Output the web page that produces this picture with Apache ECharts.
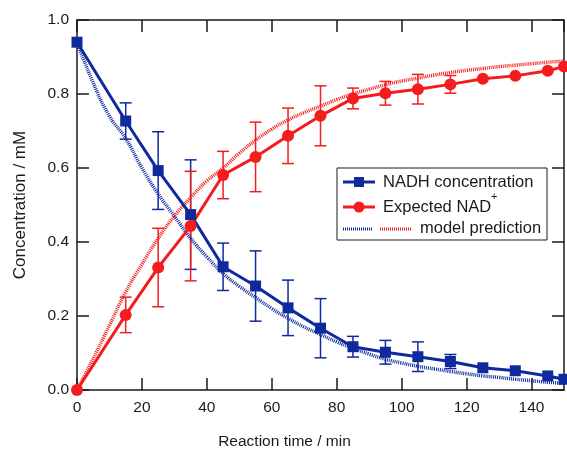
<!DOCTYPE html>
<html>
<head>
<meta charset="utf-8">
<script src="https://cdn.jsdelivr.net/npm/echarts@6/dist/echarts.min.js"></script>
<style>
    html, body { margin: 0; padding: 0; background: #fff; }
    #chart { width: 567px; height: 449px; }
</style>
</head>
<body>
<div id="chart"></div>
<script>
// measured points (min)
const times = [0, 15, 25, 35, 45, 55, 65, 75, 85, 95, 105, 115, 125, 135, 145, 150];
const nadh = [0.94, 0.727, 0.593, 0.474, 0.333, 0.281, 0.222, 0.167, 0.117, 0.102, 0.090, 0.077, 0.060, 0.052, 0.038, 0.029];
const nadhErr = [0, 0.049, 0.105, 0.148, 0.064, 0.095, 0.075, 0.080, 0.028, 0.032, 0.040, 0.019, 0, 0, 0, 0];
const nad = [0, 0.203, 0.331, 0.443, 0.581, 0.630, 0.687, 0.741, 0.788, 0.802, 0.813, 0.826, 0.841, 0.849, 0.863, 0.874];
const nadErr = [0, 0.048, 0.106, 0.148, 0.064, 0.094, 0.075, 0.081, 0.028, 0.032, 0.040, 0.024, 0, 0, 0, 0];

// model prediction curves
const modelTime = [0, 5, 10, 15, 20, 25, 30, 35, 40, 45, 50, 55, 60, 65, 70, 75, 80, 85, 90, 95, 100, 105, 110, 115, 120, 125, 130, 135, 140, 145, 150];
const modelNadh = [0.94, 0.83, 0.74, 0.68, 0.60, 0.53, 0.47, 0.41, 0.36, 0.315, 0.28, 0.25, 0.22, 0.194, 0.17, 0.15, 0.13, 0.113, 0.097, 0.083, 0.073, 0.064, 0.057, 0.050, 0.044, 0.038, 0.034, 0.029, 0.025, 0.021, 0.018];
const modelNad = [0, 0.085, 0.175, 0.265, 0.34, 0.41, 0.47, 0.52, 0.565, 0.60, 0.64, 0.675, 0.705, 0.73, 0.75, 0.767, 0.785, 0.80, 0.813, 0.825, 0.835, 0.843, 0.851, 0.858, 0.864, 0.869, 0.874, 0.878, 0.882, 0.886, 0.889];

const blue = '#0e2a9c';
const red = '#f41c1c';
const font = 'Liberation Sans, Arial, sans-serif';

function pairs(xs, ys) {
    return xs.map((x, i) => [x, ys[i]]);
}
function errData(ys, errs) {
    const out = [];
    times.forEach((t, i) => {
        if (errs[i] > 0) out.push([t, ys[i] - errs[i], ys[i] + errs[i]]);
    });
    return out;
}
function errorBars(color) {
    return function(params, api) {
        const lo = api.coord([api.value(0), api.value(1)]);
        const hi = api.coord([api.value(0), api.value(2)]);
        const w = 6;
        const st = { stroke: color, lineWidth: 1.5, fill: null };
        return {
            type: 'group',
            children: [
                { type: 'line', shape: { x1: lo[0], y1: lo[1], x2: hi[0], y2: hi[1] }, style: st },
                { type: 'line', shape: { x1: lo[0] - w, y1: lo[1], x2: lo[0] + w, y2: lo[1] }, style: st },
                { type: 'line', shape: { x1: hi[0] - w, y1: hi[1], x2: hi[0] + w, y2: hi[1] }, style: st }
            ]
        };
    };
}

const chart = echarts.init(document.getElementById('chart'));

const axisLine = { show: true, onZero: false, lineStyle: { color: '#1a1a1a', width: 1.5 } };
const tick = { show: true, inside: true, length: 12, lineStyle: { color: '#1a1a1a', width: 1.5 } };

const lx = 337, ly = 168;
let options = {
    animation: false,
    backgroundColor: '#fff',
    grid: { left: 77, right: 3, top: 20, bottom: 59, containLabel: false, outerBoundsMode: 'none' },
    xAxis: [{
        type: 'value',
        min: 0, max: 150, interval: 20,
        position: 'bottom',
        axisLine: axisLine,
        axisTick: tick,
        splitLine: { show: false },
        axisLabel: { showMaxLabel: false, margin: 10, color: '#1a1a1a', fontSize: 15.5, fontFamily: font },
        name: 'Reaction time / min',
        nameLocation: 'middle',
        nameGap: 44,
        nameTextStyle: { color: '#1a1a1a', fontSize: 15.5, fontFamily: font, padding: [0, 72, 0, 0] }
    }, {
        type: 'value',
        min: 0, max: 150, interval: 20,
        position: 'top',
        axisLine: axisLine,
        axisTick: tick,
        splitLine: { show: false },
        axisLabel: { show: false }
    }],
    yAxis: [{
        type: 'value',
        min: 0, max: 1, interval: 0.2,
        position: 'left',
        axisLine: axisLine,
        axisTick: tick,
        splitLine: { show: false },
        axisLabel: { margin: 8, color: '#1a1a1a', fontSize: 15.5, fontFamily: font, formatter: v => v.toFixed(1) },
        name: 'Concentration / mM',
        nameLocation: 'middle',
        nameGap: 48,
        nameTextStyle: { color: '#1a1a1a', fontSize: 17, fontFamily: font }
    }, {
        type: 'value',
        min: 0, max: 1, interval: 0.2,
        position: 'right',
        axisLine: axisLine,
        axisTick: tick,
        splitLine: { show: false },
        axisLabel: { show: false }
    }],
    series: [
        {
            type: 'custom', name: 'nadh err', data: errData(nadh, nadhErr),
            renderItem: errorBars(blue), encode: { x: 0, y: [1, 2] }, z: 2, clip: false
        },
        {
            type: 'custom', name: 'nad err', data: errData(nad, nadErr),
            renderItem: errorBars(red), encode: { x: 0, y: [1, 2] }, z: 2, clip: false
        },
        {
            type: 'line', name: 'model NADH', data: pairs(modelTime, modelNadh),
            smooth: true, showSymbol: false, z: 3,
            lineStyle: { color: blue, width: 3.5, type: [1, 1] }
        },
        {
            type: 'line', name: 'model NAD', data: pairs(modelTime, modelNad),
            smooth: true, showSymbol: false, z: 3,
            lineStyle: { color: red, width: 3.5, type: [1, 1] }
        },
        {
            type: 'line', name: 'NADH concentration', data: pairs(times, nadh),
            symbol: 'rect', symbolSize: 11, z: 4,
            itemStyle: { color: blue },
            lineStyle: { color: blue, width: 3 }
        },
        {
            type: 'line', name: 'Expected NAD+', data: pairs(times, nad),
            symbol: 'circle', symbolSize: 12, z: 4,
            itemStyle: { color: red },
            lineStyle: { color: red, width: 3 }
        }
    ],
    graphic: [{
        type: 'group',
        z: 100,
        children: [
            { type: 'rect', shape: { x: lx, y: ly, width: 210, height: 72 }, style: { fill: '#fff', stroke: '#1a1a1a', lineWidth: 1 } },
            { type: 'line', shape: { x1: 343, y1: 182, x2: 375, y2: 182 }, style: { stroke: blue, lineWidth: 3 } },
            { type: 'rect', shape: { x: 354, y: 177, width: 10, height: 10 }, style: { fill: blue } },
            { type: 'text', style: { text: 'NADH concentration', x: 383, y: 182, verticalAlign: 'middle', font: '16.5px ' + font, fill: '#1a1a1a' } },
            { type: 'line', shape: { x1: 343, y1: 207, x2: 375, y2: 207 }, style: { stroke: red, lineWidth: 3 } },
            { type: 'circle', shape: { cx: 359, cy: 207, r: 5.5 }, style: { fill: red } },
            { type: 'text', style: { text: 'Expected NAD', x: 383, y: 207, verticalAlign: 'middle', font: '16.5px ' + font, fill: '#1a1a1a' } },
            { type: 'text', style: { text: '+', x: 491, y: 197, verticalAlign: 'middle', font: '11px ' + font, fill: '#1a1a1a' } },
            { type: 'line', shape: { x1: 343, y1: 229, x2: 372, y2: 229 }, style: { stroke: blue, lineWidth: 3, lineDash: [1, 1] } },
            { type: 'line', shape: { x1: 380, y1: 229, x2: 411, y2: 229 }, style: { stroke: red, lineWidth: 3, lineDash: [1, 1] } },
            { type: 'text', style: { text: 'model prediction', x: 420, y: 228, verticalAlign: 'middle', font: '16.5px ' + font, fill: '#1a1a1a' } }
        ]
    }]
};
chart.setOption(options);
</script>
</body>
</html>
